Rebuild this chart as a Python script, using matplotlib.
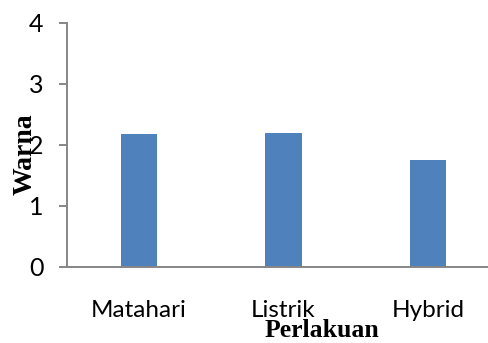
import matplotlib.pyplot as plt

# Data
kategori = ["Matahari", "Listrik", "Hybrid"]
warna = [2.17, 2.2, 1.75]
yticks = [0, 1, 2, 3, 4]

W, H = 488, 343
fig = plt.figure(figsize=(W / 100, H / 100), dpi=100)

# axes spans past the right edge, like the cropped original
ax = fig.add_axes([67 / W, 1 - 266.7 / H, (500 - 67) / W, (266.7 - 23) / H])

ax.bar(range(len(kategori)), warna, width=0.25, color="#4F81BD", zorder=2)
ax.set_xlim(-0.5, 2.5)
ax.set_ylim(0, 4)
ax.set_yticks(yticks)
ax.set_xticks(range(len(kategori)))
ax.set_xticklabels(kategori)

for s in ["top", "right"]:
    ax.spines[s].set_visible(False)
for s in ["left", "bottom"]:
    ax.spines[s].set_color("#868686")
    ax.spines[s].set_linewidth(1.4)

ax.tick_params(axis="y", length=6, width=1.4, color="#868686", pad=11,
               labelsize=18)
ax.tick_params(axis="x", length=0, pad=24, labelsize=17.5)
for lab in ax.get_xticklabels() + ax.get_yticklabels():
    lab.set_fontfamily("Lato")

fig.text(25 / W, 1 - 154 / H, "Warna", rotation=90, ha="center", va="center",
         family="Liberation Serif", fontweight="bold", fontsize=20)
fig.text(321.5 / W, 1 - 337 / H, "Perlakuan", ha="center", va="baseline",
         family="Liberation Serif", fontweight="bold", fontsize=18.5)

fig.savefig("out.png", dpi=100)
